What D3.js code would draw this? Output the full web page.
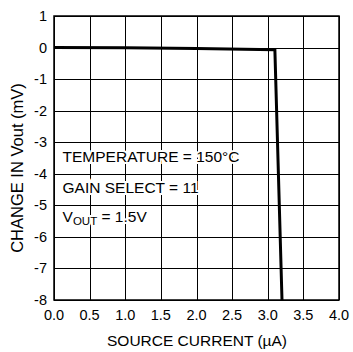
<!DOCTYPE html>
<html>
<head>
<meta charset="utf-8">
<script src="https://cdn.jsdelivr.net/npm/d3@7"></script>
<style>
  body { margin: 0; background: #fff; }
  svg { font-family: "Liberation Sans", Arial, sans-serif; }
</style>
</head>
<body>
<svg id="chart" width="353" height="352"></svg>
<script>
// data
var currentUA = [0, 1.0, 2.0, 3.1, 3.2]
var deltaVout = [0, -0.01, -0.03, -0.07, -8]

var xTicks = [0, 0.5, 1.0, 1.5, 2.0, 2.5, 3.0, 3.5, 4.0]
var yTicks = [1, 0, -1, -2, -3, -4, -5, -6, -7, -8]

var notes = [
  { x: 0.12, y: -3.63, text: "TEMPERATURE = 150°C" },
  { x: 0.12, y: -4.6, text: "GAIN SELECT = 11" }
]

var svg = d3.select("#chart")
var plotL = 54, plotR = 339, plotT = 16, plotB = 300

var x = d3.scaleLinear().domain([0, 4]).range([plotL, plotR])
var y = d3.scaleLinear().domain([-8, 1]).range([plotB, plotT])

var grid = svg.append("g")

grid.selectAll("line.v")
  .data(xTicks)
  .enter()
  .append("line")
  .attr("x1", d => Math.round(x(d)) + 0.5)
  .attr("x2", d => Math.round(x(d)) + 0.5)
  .attr("y1", plotT)
  .attr("y2", plotB)
  .attr("stroke", "#000")
  .attr("stroke-width", 1)

grid.selectAll("line.h")
  .data(yTicks)
  .enter()
  .append("line")
  .attr("x1", plotL)
  .attr("x2", plotR)
  .attr("y1", d => Math.round(y(d)) + 0.5)
  .attr("y2", d => Math.round(y(d)) + 0.5)
  .attr("stroke", "#000")
  .attr("stroke-width", 1)

// frame
svg.append("rect")
  .attr("x", plotL)
  .attr("y", plotT)
  .attr("width", plotR - plotL)
  .attr("height", plotB - plotT)
  .attr("fill", "none")
  .attr("stroke", "#000")
  .attr("stroke-width", 1.5)

// annotations (white halo over the grid)
var noteG = svg.append("g")
  .attr("font-size", 15.5)
  .attr("fill", "#000")

noteG.selectAll("text")
  .data(notes)
  .enter()
  .append("text")
  .attr("x", d => x(d.x))
  .attr("y", d => y(d.y))
  .attr("stroke", "#fff")
  .attr("stroke-width", 4)
  .attr("paint-order", "stroke")
  .text(d => d.text)

var vout = noteG.append("text")
  .attr("x", x(0.12))
  .attr("y", y(-5.52))
  .attr("stroke", "#fff")
  .attr("stroke-width", 4)
  .attr("paint-order", "stroke")
vout.append("tspan").text("V")
vout.append("tspan").attr("font-size", 11.5).attr("dy", 3).text("OUT")
vout.append("tspan").attr("dy", -3).text(" = 1.5V")

// data line
var line = d3.line()
  .x(d => x(d[0]))
  .y(d => y(d[1]))

var pts = currentUA.map((c, i) => [c, deltaVout[i]])

svg.append("path")
  .datum(pts)
  .attr("d", line)
  .attr("fill", "none")
  .attr("stroke", "#000")
  .attr("stroke-width", 3)
  .attr("stroke-linejoin", "miter")

// tick labels
svg.append("g")
  .selectAll("text")
  .data(xTicks)
  .enter()
  .append("text")
  .attr("x", d => x(d))
  .attr("y", 320)
  .attr("text-anchor", "middle")
  .attr("font-size", 14.5)
  .text(d => d.toFixed(1))

svg.append("g")
  .selectAll("text")
  .data(yTicks)
  .enter()
  .append("text")
  .attr("x", 47)
  .attr("y", d => y(d) + 5)
  .attr("text-anchor", "end")
  .attr("font-size", 14.5)
  .text(d => d)

// axis titles
svg.append("text")
  .attr("x", 197)
  .attr("y", 346)
  .attr("text-anchor", "middle")
  .attr("font-size", 15.5)
  .text("SOURCE CURRENT (µA)")

svg.append("text")
  .attr("transform", "translate(23,168) rotate(-90)")
  .attr("text-anchor", "middle")
  .attr("font-size", 16.5)
  .text("CHANGE IN Vout (mV)")
</script>
</body>
</html>
